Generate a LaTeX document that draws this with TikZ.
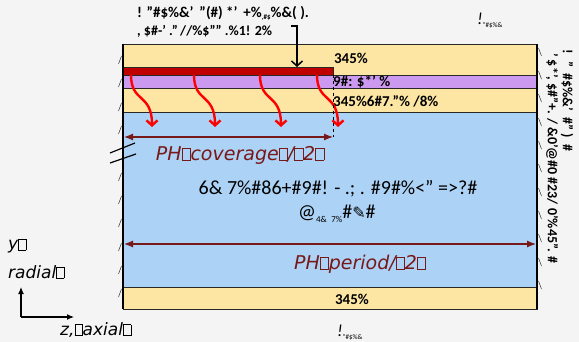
\documentclass[tikz,border=0pt]{standalone}
\usepackage{fontspec}
\setmainfont{Carlito}
\newfontfamily\dvs{DejaVu Sans}
\usetikzlibrary{arrows.meta}
\definecolor{bgc}{RGB}{244,244,244}
\definecolor{tanc}{RGB}{253,229,164}
\definecolor{lilac}{RGB}{204,153,240}
\definecolor{barred}{RGB}{192,0,0}
\definecolor{sky}{RGB}{172,210,245}
\definecolor{dimred}{RGB}{120,25,25}
\definecolor{edgec}{RGB}{40,40,40}
\newcommand\tofu{{\setlength\fboxsep{0pt}\setlength\fboxrule{0.5pt}\fbox{\rule{0pt}{0.62em}\hspace{0.42em}}}}
\begin{document}
\begin{tikzpicture}[x=1pt,y=-1pt,
  layerline/.style={draw=edgec,line width=0.8pt},
  redarr/.style={draw=red,line width=2.4pt,-{Straight Barb[length=5pt,width=11pt]}},
  dimarr/.style={draw=dimred,line width=1.2pt,{Latex[length=9pt,width=7pt]}-{Latex[length=9pt,width=7pt]}},
  hatch/.style={draw=edgec,line width=0.5pt},
  garb/.style={inner sep=0pt,font=\bfseries\fontsize{15}{17}\selectfont},
  bandlbl/.style={inner sep=0pt,font=\bfseries\fontsize{15}{17}\selectfont},
  dimlbl/.style={inner sep=0pt,text=dimred,font=\dvs\itshape\fontsize{19}{22}\selectfont},
  axlbl/.style={inner sep=0pt,anchor=west,font=\dvs\itshape\fontsize{17}{20}\selectfont},
  midtxt/.style={inner sep=0pt,font=\fontsize{20}{23}\selectfont},
  sidetxt/.style={inner sep=0pt,anchor=west,rotate=-90,font=\bfseries\fontsize{14}{16}\selectfont},
  smalltxt/.style={inner sep=0pt,anchor=west,font=\itshape\fontsize{17}{19}\selectfont}]
\useasboundingbox[fill=bgc] (0,0) rectangle (579,342);
% layers
\fill[tanc] (123,44) rectangle (537,75);
\fill[lilac] (123,75) rectangle (537,88);
\fill[tanc] (123,88) rectangle (537,112);
\fill[sky] (123,112) rectangle (537,287);
\fill[tanc] (123,287) rectangle (537,309);
\fill[barred] (123,67) rectangle (333,75);
\draw[layerline] (123,75) -- (537,75);
\draw[layerline] (123,88) -- (537,88);
\draw[layerline] (123,112) -- (537,112);
\draw[layerline] (123,287) -- (537,287);
\draw[layerline] (123,67) -- (333,67) -- (333,75);
\draw[layerline] (123,44) rectangle (537,309);
\draw[black,line width=1.4pt] (123,44) -- (123,309);
\draw[black,line width=1.2pt] (537,44) -- (537,309);
% hatch marks
\foreach \yy in {60,83,107,130,177,200,223,247,270,293}{
  \draw[hatch] (118.5,\yy+4) -- (121.5,\yy-4);
}
\foreach \yy in {52,75,98,122,145,168,192,215,238,262,285}{
  \draw[hatch] (538.5,\yy-4) -- (541.5,\yy+4);
}
% break marks
\draw[black,line width=1.2pt] (110,153) -- (135,143);
\draw[black,line width=1.2pt] (110,163) -- (136,154);
% band labels
\node[bandlbl] (b1) at (351,58) {345\%};
\node[bandlbl,anchor=west] (b2) at (333,82) {9\#: \$*' \%};
\node[bandlbl,anchor=west] (b3) at (333,101) {345\%6\#7."\% /8\%};
\node[bandlbl] (b4) at (352,299) {345\%};
% top label and arrow
\node[garb,anchor=west] (t1) at (137,13) {! "\#\$\%\&' \,"(\#) *' \,+\%\raisebox{-2pt}{\scriptsize ,\#\$}\%\&( ).};
\node[garb,anchor=west,font=\bfseries\fontsize{14}{16}\selectfont] (t2) at (137,31) {, \$\#-' ."\,//\%\$"" .\%1! 2\%};
\coordinate (tk) at (291,26);
\coordinate (bartop) at (297,67);
\draw[black,line width=1.5pt,-{Straight Barb[length=5pt,width=11pt]}] (tk) -| (bartop);
% red wavy arrows
\foreach \i/\sx in {1/131,2/194,3/260,4/317}{
  \coordinate (s\i) at (\sx,75);
  \coordinate (e\i) at (\sx+21,127);
  \draw[redarr] (s\i) .. controls +(0,28) and +(0,-34) .. (e\i);
}
% dashed
\coordinate (dtop) at (333,75);
\coordinate (dbot) at (333,137);
\draw[black,dashed,line width=0.8pt] (dtop) -- (dbot);
% dimension arrows
\coordinate (cl) at (124,137);
\coordinate (cr) at (333,137);
\draw[dimarr] (cl) -- (cr);
\node[dimlbl] (cov) at (240,155) {PH\tofu coverage\tofu/\tofu2\tofu};
\coordinate (pl) at (124,244);
\coordinate (pr) at (536,244);
\draw[dimarr] (pl) -- (pr);
\node[dimlbl] (per) at (360,264) {PH\tofu period/\tofu2\tofu};
% middle text
\node[midtxt] (m1) at (338,189) {6\& 7\%\#86+\#9\#! - .; . \#9\#\%<" =>?\#};
\node[midtxt,anchor=west] (m2) at (298,214) {@\raisebox{-4pt}{\small 4\&} \raisebox{-4pt}{\small 7\%}\#{\dvs\fontsize{16}{16}\selectfont ✎}\#};
% right side text
\node[sidetxt] (r1) at (567,49) {! \ " \ \#\$\%\&' \ \#" ) \ \#};
\node[sidetxt] (r2) at (552,53) {' \$*', \$\#"+. / \&0'@\#0 \#23/ 0'\%45". \#};
% small labels
\node[smalltxt] (st) at (477,21) {!\raisebox{-3pt}{\upshape\scriptsize "\#\$\%\&}};
\node[smalltxt] (sb) at (337,333) {!\raisebox{-3pt}{\upshape\scriptsize "\#\$\%\&}};
% axes
\coordinate (o) at (21,317);
\coordinate (yt) at (21,287);
\coordinate (zt) at (74,317);
\draw[black,line width=1.2pt,-{Latex[length=7pt,width=6pt]}] (o) -- (yt);
\draw[black,line width=1.2pt,-{Latex[length=7pt,width=6pt]}] (o) -- (zt);
\node[axlbl] (ylab) at (8,246) {y\tofu};
\node[axlbl] (rlab) at (8,272) {radial\tofu};
\node[axlbl] (zlab) at (60,330) {z,\tofu axial\tofu};
\end{tikzpicture}
\end{document}
